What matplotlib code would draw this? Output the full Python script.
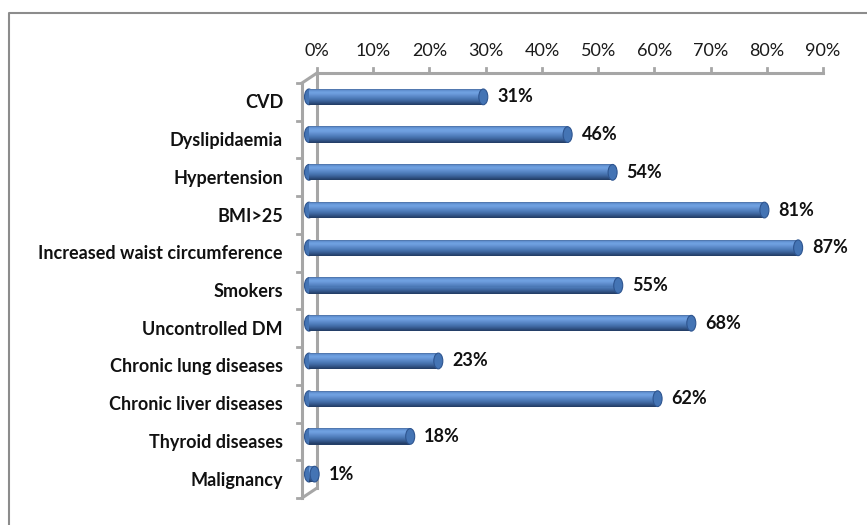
import numpy as np
import matplotlib
matplotlib.use('Agg')
import matplotlib.pyplot as plt
from matplotlib.patches import Ellipse
from matplotlib.lines import Line2D
from matplotlib import transforms

# данные
categories = ['CVD', 'Dyslipidaemia', 'Hypertension', 'BMI>25',
              'Increased waist circumference', 'Smokers', 'Uncontrolled DM',
              'Chronic lung diseases', 'Chronic liver diseases',
              'Thyroid diseases', 'Malignancy']
values = [31, 46, 54, 81, 87, 55, 68, 23, 62, 18, 1]
ticks = [0, 10, 20, 30, 40, 50, 60, 70, 80, 90]

W, H = 867, 525
plt.rcParams['font.family'] = ['Lato', 'DejaVu Sans']

fig = plt.figure(figsize=(W / 100, H / 100), dpi=100)
ax = fig.add_axes([317 / W, 1 - 488 / H, (823 - 317) / W, (488 - 73) / H])
ax.set_xlim(0, 90)
ax.set_ylim(len(categories) - 0.5, -0.5)
ax.axis('off')


def shift(dx, dy):
    # сдвиг в пикселях (dy вниз)
    return transforms.ScaledTranslation(dx / 100, -dy / 100, fig.dpi_scale_trans)


def pix_line(x, y, **kw):
    # линия в пикселях экрана
    ax.add_artist(Line2D(x, y, transform=None, clip_on=False, **kw))


grey = '#A6A6A6'
n = len(categories)
front = ax.transData + shift(-15, 10)
mid = ax.transData + shift(-8, 5)

# рамка вокруг диаграммы
fig.add_artist(Line2D([9 / W, 9 / W, 1], [0, 1 - 13 / H, 1 - 13 / H],
                      color='#8C8C8C', lw=1.5, transform=fig.transFigure))

# задняя стенка и верхняя грань с делениями
ax.plot([0, 0], [-0.5, n - 0.5], color=grey, lw=2.2, clip_on=False)
ax.plot([0, 90], [-0.5, -0.5], color=grey, lw=2.2, clip_on=False)
for t in ticks:
    px, py = ax.transData.transform((t, -0.5))
    pix_line([px, px], [py, py + 5], color=grey, lw=2)
    ax.text(t, -0.5, f'{t}%', ha='center', va='center', fontsize=13,
            transform=ax.transData + shift(0, -22), color='#1a1a1a')

# передняя грань слева
ax.plot([0, 0], [-0.5, n - 0.5], color=grey, lw=2.2, transform=front, clip_on=False)
for yy in (-0.5, n - 0.5):
    px, py = ax.transData.transform((0, yy))
    pix_line([px - 15, px], [py - 10, py], color=grey, lw=2.2)
for k in range(n + 1):
    px, py = front.transform((0, k - 0.5))
    pix_line([px - 5, px], [py, py], color=grey, lw=2)

# цилиндрические полосы: набор тонких полос с градиентом
shade = ['#5279B0', '#6190D0', '#6A9BDB', '#6FA0E0', '#6C9DDD', '#6796D6',
         '#608ECE', '#5987C6', '#5280BE', '#4B78B5', '#4570AB', '#3F67A0',
         '#385D93', '#315385', '#2A4876', '#243F68']
bar_h = 0.43
strip = bar_h / len(shade)
ypos = np.arange(n)
for k, c in enumerate(shade):
    off = -bar_h / 2 + strip * (k + 0.5)
    ax.barh(ypos + off, values, height=strip * 1.05, color=c, lw=0,
            transform=mid, clip_on=False, zorder=3)

bar_px = bar_h * (488 - 73) / n
for i, v in enumerate(values):
    # торцы цилиндра
    for xv, z in ((0, 2), (v, 4)):
        tr = fig.dpi_scale_trans + transforms.ScaledTranslation(xv, i, ax.transData)
        e = Ellipse((-8 / 100, -5 / 100), 9 / 100, (bar_px - 0.5) / 100,
                    facecolor='#4474B4', edgecolor='#2E5590', lw=0.8,
                    transform=tr, zorder=z, clip_on=False)
        ax.add_artist(e)
    ax.text(v, i, f'{v}%', ha='left', va='center', fontsize=13,
            fontweight='bold', transform=ax.transData + shift(6, 5),
            color='#111111')
    ax.text(0, i, categories[i], ha='right', va='center', fontsize=13,
            fontweight='bold', transform=ax.transData + shift(-34, 11),
            color='#111111')

fig.savefig('out.png', dpi=100)
